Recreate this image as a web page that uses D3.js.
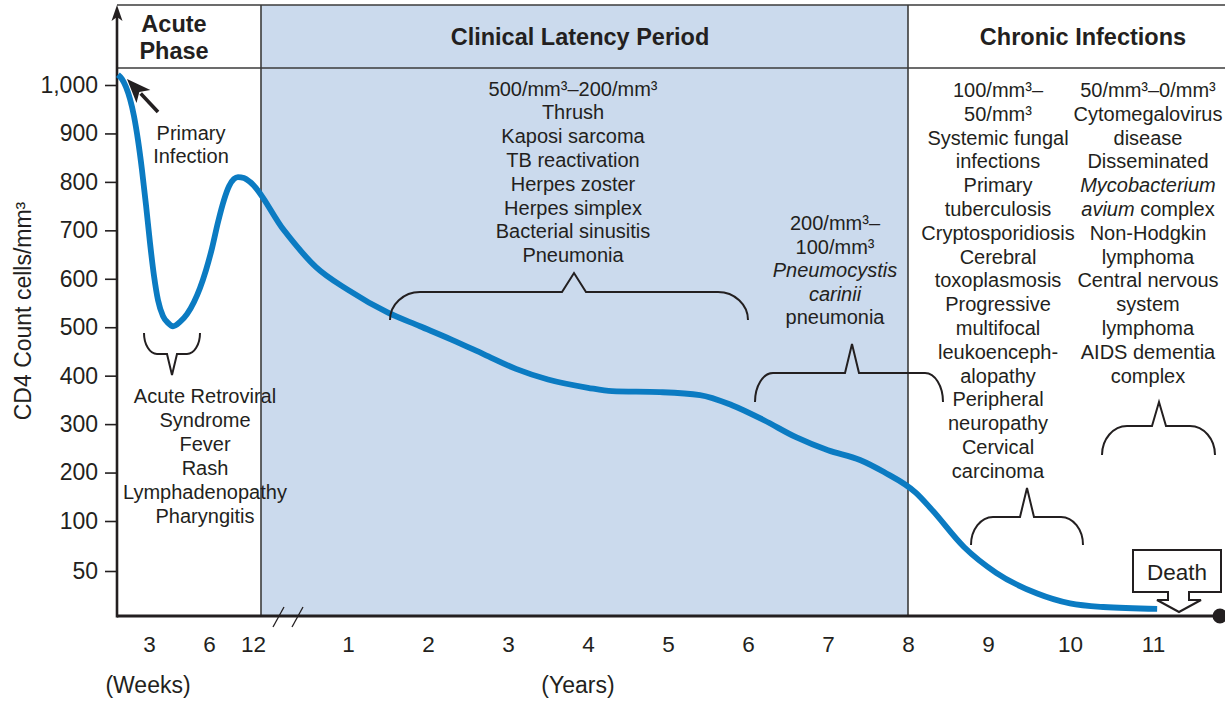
<!DOCTYPE html>
<html>
<head>
<meta charset="utf-8">
<script src="https://cdn.jsdelivr.net/npm/d3@7"></script>
<style>
  html, body { margin: 0; padding: 0; background: #fff; }
  svg { display: block; font-family: "Liberation Sans", Arial, Helvetica, sans-serif; }
</style>
</head>
<body>
<svg id="chart" width="1225" height="701"></svg>
<script>
// ---- Data -----------------------------------------------------------
const countTicks = [50, 100, 200, 300, 400, 500, 600, 700, 800, 900, 1000];
const weekTicks = [3, 6, 12];
const yearTicks = [1, 2, 3, 4, 5, 6, 7, 8, 9, 10, 11];

// CD4 count during the acute phase (time in weeks)
const acuteWeeks  = [0.09, 0.47, 0.84, 1.22, 1.59, 1.97, 2.34, 2.72, 3.05, 3.25, 3.45, 3.7, 3.95, 4.2,
  4.55, 4.9, 5.25, 5.55, 5.85, 6.41, 7.23, 8.05, 8.73, 9.41, 9.95, 10.77, 11.59];
const acuteCounts = [1021, 1012, 996, 971, 936, 886, 825, 752, 674, 606, 556, 523, 509, 502,
  511, 527, 552, 581, 618, 663, 717, 763, 791, 806, 810, 808, 800];

// CD4 count from latency to AIDS (time in years)
const laterYears  = [0.2, 0.6, 1, 1.5, 1.9, 2.3, 2.7, 3.1, 3.5, 4, 4.3, 4.9, 5.4, 5.8, 6.2, 6.6, 7, 7.4, 7.7, 8.1, 8.3, 8.7, 9.1, 9.6, 10, 10.4, 11.05];
const laterCounts = [700, 624, 577, 530, 502, 474, 444, 414, 392, 375, 368, 366, 360, 339, 308, 273, 246, 226, 201, 158, 123, 74, 48, 25, 14, 10, 8];

const phaseTitles = { acute: ["Acute", "Phase"], latency: "Clinical Latency Period", chronic: "Chronic Infections" };

const primaryLabel = ["Primary", "Infection"];
const acuteSymptoms = ["Acute Retroviral", "Syndrome", "Fever", "Rash", "Lymphadenopathy", "Pharyngitis"];
const latencyInfections = ["500/mm³–200/mm³", "Thrush", "Kaposi sarcoma", "TB reactivation",
  "Herpes zoster", "Herpes simplex", "Bacterial sinusitis", "Pneumonia"];
const pcpInfections = ["200/mm³–", "100/mm³", [["Pneumocystis", true]], [["carinii", true]], "pneumonia"];
const lowCountInfections = ["100/mm³–", "50/mm³", "Systemic fungal", "infections", "Primary", "tuberculosis",
  "Cryptosporidiosis", "Cerebral", "toxoplasmosis", "Progressive", "multifocal", "leukoenceph-",
  "alopathy", "Peripheral", "neuropathy", "Cervical", "carcinoma"];
const endStageInfections = ["50/mm³–0/mm³", "Cytomegalovirus", "disease", "Disseminated",
  [["Mycobacterium", true]], [["avium", true], [" complex", false]], "Non-Hodgkin", "lymphoma",
  "Central nervous", "system", "lymphoma", "AIDS dementia", "complex"];

// ---- Layout ---------------------------------------------------------
const INK = "#231f20";
const FRAME = "#3b3b3b";
const SHADE = "#cbdaed";
const CURVE = "#0b7bc2";
const FONT = "Liberation Sans, Arial, sans-serif";

const axisX = 117, axisY = 616, topY = 5, headerY = 68;
const latencyLeft = 261, latencyRight = 908, rightEdge = 1225;

const svg = d3.select("#chart");

// Count axis: linear from 100 up, stretched below 100
const y = d3.scaleLinear().domain([0, 50, 100, 1000]).range([axisY, 571, 521, 85]);
// Time axes: weeks for the acute phase, years afterwards
const xWeeks = d3.scaleLinear().domain([0, 3, 6, 12]).range([axisX, 149, 209, 253]);
const xYears = d3.scaleLinear().domain([0, 8, 9, 10, 11]).range([268, 908, 988, 1070, 1153]);

// ---- Phase panels ---------------------------------------------------
svg.append("rect")
  .attr("x", latencyLeft).attr("y", topY)
  .attr("width", latencyRight - latencyLeft).attr("height", axisY - topY)
  .attr("fill", SHADE);

const frame = svg.append("g").attr("stroke", FRAME).attr("stroke-width", 1.6).attr("fill", "none");
frame.append("line").attr("x1", axisX).attr("x2", rightEdge).attr("y1", topY).attr("y2", topY);
frame.append("line").attr("x1", axisX).attr("x2", rightEdge).attr("y1", headerY).attr("y2", headerY);
[latencyLeft, latencyRight].forEach(xv =>
  frame.append("line").attr("x1", xv).attr("x2", xv).attr("y1", topY).attr("y2", axisY));

// Phase titles
const titles = svg.append("g").attr("fill", INK).attr("font-weight", "bold").attr("text-anchor", "middle")
  .attr("font-size", 23.5);
phaseTitles.acute.forEach((t, i) =>
  titles.append("text").attr("x", 174).attr("y", 32 + i * 27).text(t));
titles.append("text").attr("x", 580).attr("y", 45).text(phaseTitles.latency);
titles.append("text").attr("x", 1083).attr("y", 45).text(phaseTitles.chronic);

// ---- Axes -----------------------------------------------------------
const yAxis = svg.append("g")
  .attr("transform", `translate(${axisX},0)`)
  .call(d3.axisLeft(y).tickValues(countTicks).tickFormat(d3.format(",")).tickSize(12).tickPadding(7).tickSizeOuter(0));
yAxis.select(".domain").remove();
yAxis.selectAll(".tick line").attr("stroke", INK).attr("stroke-width", 1.6);
yAxis.selectAll(".tick text").attr("fill", INK).attr("font-size", 23).attr("font-family", FONT);

function bottomLabels(scale, ticks) {
  const g = svg.append("g")
    .attr("transform", `translate(0,${axisY})`)
    .call(d3.axisBottom(scale).tickValues(ticks).tickSize(0).tickPadding(20));
  g.select(".domain").remove();
  g.selectAll(".tick text").attr("fill", INK).attr("font-size", 22.5).attr("font-family", FONT);
}
bottomLabels(xWeeks, weekTicks);
bottomLabels(xYears, yearTicks);

svg.append("text").attr("x", 148).attr("y", 693).attr("text-anchor", "middle")
  .attr("font-size", 23).attr("fill", INK).text("(Weeks)");
svg.append("text").attr("x", 578).attr("y", 693).attr("text-anchor", "middle")
  .attr("font-size", 23).attr("fill", INK).text("(Years)");

svg.append("text")
  .attr("transform", "translate(31,311) rotate(-90)")
  .attr("text-anchor", "middle").attr("font-size", 23).attr("fill", INK)
  .text("CD4 Count cells/mm³");

// Axis lines, arrow on the count axis, end marker on the time axis
svg.append("line").attr("x1", axisX).attr("x2", 1220).attr("y1", axisY).attr("y2", axisY)
  .attr("stroke", INK).attr("stroke-width", 3);
svg.append("line").attr("x1", axisX).attr("x2", axisX).attr("y1", axisY + 1.5).attr("y2", 16)
  .attr("stroke", INK).attr("stroke-width", 2.6);
svg.append("path").attr("d", `M${axisX},5 L${axisX + 5.5},21 L${axisX},17 L${axisX - 5.5},21 Z`).attr("fill", INK);
svg.append("circle").attr("cx", 1220).attr("cy", axisY).attr("r", 7.5).attr("fill", INK);

// Axis break marks
const breaks = svg.append("g").attr("stroke", INK).attr("stroke-width", 1.3);
[273, 292].forEach(bx =>
  breaks.append("line").attr("x1", bx).attr("y1", 627).attr("x2", bx + 11).attr("y2", 607));

// ---- CD4 curve ------------------------------------------------------
const curvePoints = acuteWeeks.map((w, i) => [xWeeks(w), y(acuteCounts[i])])
  .concat(laterYears.map((yr, i) => [xYears(yr), y(laterCounts[i])]));

svg.append("path")
  .attr("d", d3.line().curve(d3.curveMonotoneX)(curvePoints))
  .attr("fill", "none").attr("stroke", CURVE).attr("stroke-width", 5.8)
  .attr("stroke-linejoin", "round");

// ---- Annotations ----------------------------------------------------
function brace(x1, x2, cx, yEnd, yBar, yTip, rx, half) {
  const k = 0.45, dy = (yEnd - yBar) * k;
  return `M${x1},${yEnd} C${x1},${yBar + dy} ${x1 + rx * k},${yBar} ${x1 + rx},${yBar}` +
         ` L${cx - half},${yBar} L${cx},${yTip} L${cx + half},${yBar} L${x2 - rx},${yBar}` +
         ` C${x2 - rx * k},${yBar} ${x2},${yBar + dy} ${x2},${yEnd}`;
}
const braceG = svg.append("g").attr("fill", "none").attr("stroke", INK).attr("stroke-width", 2)
  .attr("stroke-linejoin", "miter");
[
  [144, 200, 172, 333, 354, 375, 13, 5],
  [390, 748, 574, 320, 292, 273, 30, 12],
  [755, 943, 852, 402, 373, 344, 18, 7],
  [971, 1083, 1027, 545, 517, 488, 22, 7],
  [1102, 1215, 1159, 455, 426, 402, 25, 7]
].forEach(b => braceG.append("path").attr("d", brace(...b)));

function textBlock(lines, cx, firstBaseline, step) {
  const g = svg.append("g").attr("fill", INK).attr("font-size", 20).attr("text-anchor", "middle");
  lines.forEach((line, i) => {
    const t = g.append("text").attr("x", cx).attr("y", firstBaseline + i * step);
    if (typeof line === "string") t.text(line);
    else line.forEach(([s, it]) => t.append("tspan").attr("font-style", it ? "italic" : "normal").text(s));
  });
}
textBlock(primaryLabel, 191, 140, 23);
textBlock(acuteSymptoms, 205, 403, 24);
textBlock(latencyInfections, 573, 95.5, 23.8);
textBlock(pcpInfections, 835, 230, 23.6);
textBlock(lowCountInfections, 998, 97, 23.8);
textBlock(endStageInfections, 1148, 97, 23.8);

// Primary infection pointer
(function () {
  const tip = [127, 79], tail = [158, 112];
  const len = Math.hypot(tail[0] - tip[0], tail[1] - tip[1]);
  const ux = (tip[0] - tail[0]) / len, uy = (tip[1] - tail[1]) / len;
  const headLen = 24, halfW = 9.5, notch = 6;
  const bx = tip[0] - ux * headLen, by = tip[1] - uy * headLen;
  const px = -uy, py = ux;
  svg.append("line").attr("x1", tail[0]).attr("y1", tail[1]).attr("x2", bx + ux * 4).attr("y2", by + uy * 4)
    .attr("stroke", INK).attr("stroke-width", 3.6);
  svg.append("path").attr("fill", INK).attr("d",
    `M${tip[0]},${tip[1]} L${bx + px * halfW},${by + py * halfW} L${bx + ux * notch},${by + uy * notch}` +
    ` L${bx - px * halfW},${by - py * halfW} Z`);
})();

// Death marker: a box with a downward block arrow
svg.append("path")
  .attr("d", "M1133,550 H1221 V592 H1189 V600 H1201 L1179,612 L1157,600 H1168 V592 H1133 Z")
  .attr("fill", "#fff").attr("stroke", INK).attr("stroke-width", 2).attr("stroke-linejoin", "miter");
svg.append("text").attr("x", 1177).attr("y", 580).attr("text-anchor", "middle")
  .attr("font-size", 22.5).attr("fill", INK).text("Death");
</script>
</body>
</html>
